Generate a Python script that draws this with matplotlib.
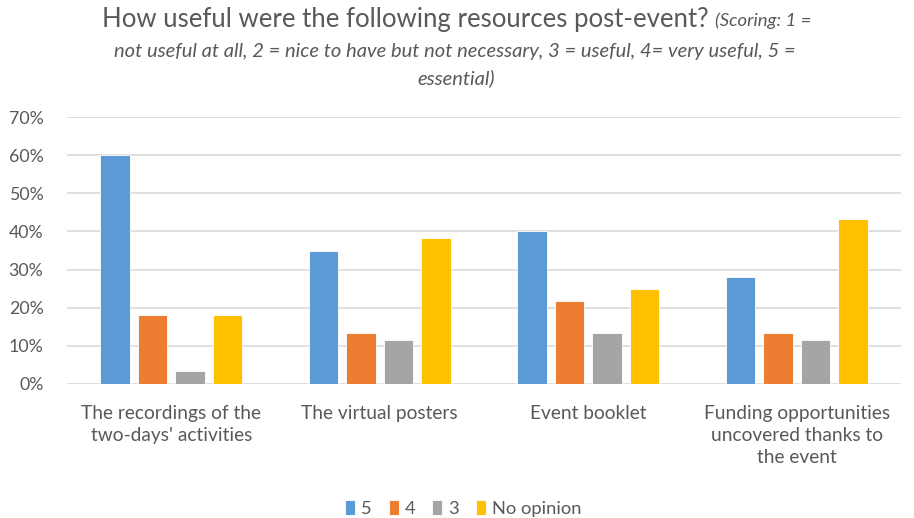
import numpy as np
import matplotlib.pyplot as plt
from matplotlib.ticker import PercentFormatter

plt.rcParams['font.family'] = ['Lato', 'DejaVu Sans']

categorias = ["The recordings of the\ntwo-days' activities", "The virtual posters",
              "Event booklet", "Funding opportunities\nuncovered thanks to\nthe event"]
series = ["5", "4", "3", "No opinion"]
valores_5 = [60, 35, 40, 28]
valores_4 = [18, 13.3, 21.7, 13.3]
valores_3 = [3.3, 11.5, 13.3, 11.5]
valores_no = [18, 38.3, 25, 43.3]
colores = ['#5b9bd5', '#ed7d31', '#a5a5a5', '#ffc000']
gris = '#595959'

fig = plt.figure(figsize=(9.14, 5.18), dpi=100)
ax = fig.add_axes([67/914, 1 - 384/518, 834/914, 267/518])

x = np.arange(len(categorias))
ancho = 0.142
paso = 0.18
datos = [valores_5, valores_4, valores_3, valores_no]
for i, (vals, nombre, c) in enumerate(zip(datos, series, colores)):
    ax.bar(x + (i - 1.5) * paso, vals, ancho, color=c, label=nombre, zorder=3,
           edgecolor='white', linewidth=0.6)

ax.set_xlim(-0.5, 3.5)
ax.set_ylim(0, 70)
ax.set_yticks(np.arange(0, 71, 10))
ax.yaxis.set_major_formatter(PercentFormatter(decimals=0))
ax.grid(axis='y', color='#d9d9d9', linewidth=1.2, zorder=0)
for s in ax.spines.values():
    s.set_visible(False)
ax.tick_params(axis='both', length=0, colors=gris)
ax.tick_params(axis='y', pad=17, labelsize=12.8)
ax.tick_params(axis='x', pad=15)
ax.set_xticks(x)
ax.set_xticklabels(categorias, fontsize=13.8, linespacing=1.35)

ax.legend(loc='center', bbox_to_anchor=(0.475, -0.465), ncol=4, frameon=False,
          fontsize=13.2, handlelength=0.55, handleheight=0.9, handletextpad=0.3,
          columnspacing=0.95, labelcolor=gris)

# titulo con dos estilos en la primera linea
t1 = fig.text(0, 1 - 19/518, "How useful were the following resources post-event? ",
              fontsize=18.5, color=gris, va='center')
t2 = fig.text(0, 1 - 21/518, "(Scoring: 1 =", fontsize=13.3, style='italic',
              color=gris, va='center')
r = fig.canvas.get_renderer()
w1 = t1.get_window_extent(r).width
w2 = t2.get_window_extent(r).width
x0 = (914 - w1 - w2) / 2
t1.set_x(x0 / 914)
t2.set_x((x0 + w1) / 914)
fig.text(455/914, 1 - 52/518,
         "not useful at all, 2 = nice to have but not necessary, 3 = useful, 4= very useful, 5 =",
         fontsize=14.5, style='italic', color=gris, ha='center', va='center')
fig.text(456/914, 1 - 78/518, "essential)", fontsize=14.5, style='italic',
         color=gris, ha='center', va='center')

fig.savefig('out.png', dpi=100)
